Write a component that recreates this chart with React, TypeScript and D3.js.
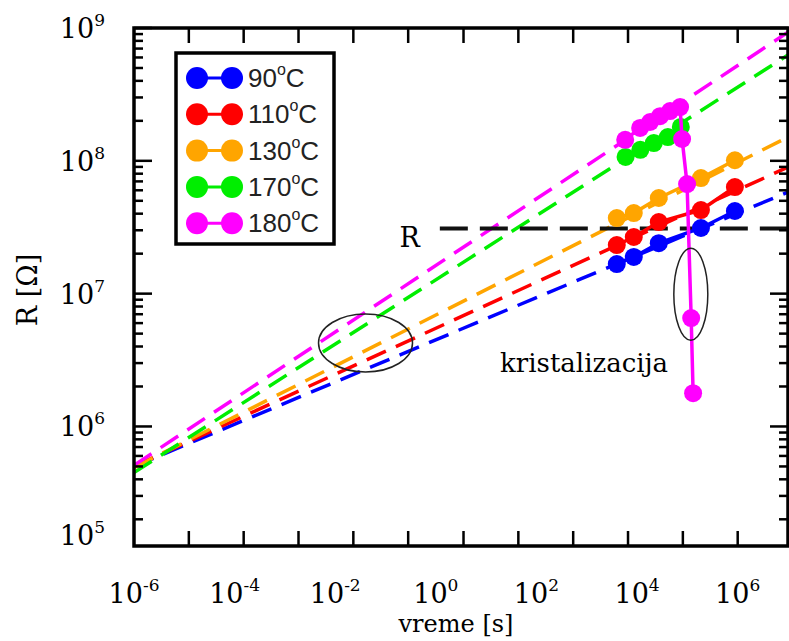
import React from 'react';
import * as d3 from 'd3';

// ---------- data ----------
const seriesNames = ['90', '110', '130', '170', '180'];
const seriesColors = ['#0000ff', '#ff0000', '#ffa500', '#00ee00', '#ff00ff'];

const blueT = [3.95e3, 8.6e3, 2.7e4, 1.86e5, 8.8e5];
const blueR = [1.67e7, 1.89e7, 2.4e7, 3.12e7, 4.19e7];
const redT = [3.95e3, 8.6e3, 2.7e4, 1.86e5, 8.8e5];
const redR = [2.32e7, 2.67e7, 3.46e7, 4.26e7, 6.35e7];
const orangeT = [3.95e3, 8.6e3, 2.7e4, 1.86e5, 8.8e5];
const orangeR = [3.71e7, 4.04e7, 5.25e7, 7.42e7, 1.01e8];
const greenT = [5.9e3, 1.16e4, 2.15e4, 4.09e4, 7.4e4];
const greenR = [1.07e8, 1.21e8, 1.36e8, 1.51e8, 1.8e8];
const magentaT = [5.8e3, 1.15e4, 1.82e4, 2.86e4, 4.53e4, 7.16e4, 7.85e4, 9.86e4, 1.19e5, 1.3e5];
const magentaR = [1.44e8, 1.77e8, 1.96e8, 2.17e8, 2.37e8, 2.54e8, 1.46e8, 6.68e7, 6.55e6, 1.78e6];

// power-law fits: value at t = 1e-6 s and at t = 1e7 s
const fitStartR = [5.0e5, 5.0e5, 4.9e5, 4.5e5, 5.1e5];
const fitEndR = [5.82e7, 8.98e7, 1.51e8, 6.26e8, 9.3e8];

const xDomain = [1e-6, 1e7];
const yDomain = [Math.pow(10, 5.1), 1e9];
const xLabelExps = [-6, -4, -2, 0, 2, 4, 6];
const yLabelExps = [9, 8, 7, 6, 5];
const xTickExps = [-4.91, -3.82, -2.73, -1.64, -0.55, 0.55, 1.64, 2.73, 3.82, 4.91, 6.0];

const thresholdR = 3.1e7;
const thresholdStartT = 1.2;
const ellipse1 = { t: 0.04, r: 4.25e6 };
const ellipse2 = { t: 1.17e5, r: 9.9e6 };
const crystLabel = { t: 18.9, r: 3.0e6 };
const rLabel = { t: 0.19, r: 2.85e7 };

const seriesT = [blueT, redT, orangeT, greenT, magentaT];
const seriesR = [blueR, redR, orangeR, greenR, magentaR];

// ---------- layout ----------
const W = 789;
const H = 641;
const L = 134, R = 788, T = 28, B = 546;
const serif = "'DejaVu Serif', serif";
const sans = "'Liberation Sans', Arial, sans-serif";

export default function App() {
  const x = d3.scaleLog().domain(xDomain).range([L, R]);
  const y = d3.scaleLog().domain(yDomain).range([B, T]);

  const line = d3.line<[number, number]>().x(d => x(d[0])).y(d => y(d[1]));

  const yTicks: { v: number; major: boolean }[] = [];
  for (let e = 5; e <= 9; e++) {
    for (let m = 1; m <= 9; m++) {
      const v = m * Math.pow(10, e);
      if (v < yDomain[0] || v > yDomain[1] * 1.0001) continue;
      yTicks.push({ v, major: m === 1 });
    }
  }

  const legendX = 176, legendY = 53, legendW = 158, legendH = 191;

  return (
    <svg width={W} height={H} style={{ position: 'absolute', left: 0, top: 0, background: '#fff' }}>
      <defs>
        <clipPath id="plot">
          <rect x={L} y={T} width={R - L} height={B - T} />
        </clipPath>
      </defs>
      <rect x={0} y={0} width={W} height={H} fill="#fff" />

      <g clipPath="url(#plot)">
        {fitStartR.map((s, i) => (
          <path
            key={'fit' + i}
            d={line([[xDomain[0], s], [xDomain[1], fitEndR[i]]]) || ''}
            fill="none"
            stroke={seriesColors[i]}
            strokeWidth={3.5}
            strokeDasharray="21,11"
          />
        ))}
        <path
          d={line([[thresholdStartT, thresholdR], [xDomain[1], thresholdR]]) || ''}
          fill="none"
          stroke="#111"
          strokeWidth={4}
          strokeDasharray="28,12"
        />
        {seriesT.map((ts, i) => (
          <g key={'s' + i}>
            <path
              d={line(ts.map((t, j) => [t, seriesR[i][j]] as [number, number])) || ''}
              fill="none"
              stroke={seriesColors[i]}
              strokeWidth={3.5}
            />
            {ts.map((t, j) => (
              <circle key={j} cx={x(t)} cy={y(seriesR[i][j])} r={9} fill={seriesColors[i]} />
            ))}
          </g>
        ))}
        <ellipse cx={x(ellipse1.t)} cy={y(ellipse1.r)} rx={47} ry={29} fill="none" stroke="#222" strokeWidth={1.5} />
        <ellipse cx={x(ellipse2.t)} cy={y(ellipse2.r)} rx={17} ry={46} fill="none" stroke="#222" strokeWidth={1.5} />
      </g>

      <text x={x(rLabel.t)} y={y(rLabel.r) + 14} fontFamily={serif} fontSize={27} fill="#000">R</text>
      <text x={x(crystLabel.t)} y={y(crystLabel.r) + 9} fontFamily={serif} fontSize={26} fill="#000">kristalizacija</text>

      <rect x={L} y={T} width={R - L} height={B - T} fill="none" stroke="#000" strokeWidth={3.5} />

      {yTicks.map((tk, i) => (
        <g key={'yt' + i}>
          <line x1={L} x2={L + (tk.major ? 18 : 9)} y1={y(tk.v)} y2={y(tk.v)} stroke="#000" strokeWidth={2.5} />
          <line x1={R} x2={R - (tk.major ? 18 : 9)} y1={y(tk.v)} y2={y(tk.v)} stroke="#000" strokeWidth={2.5} />
        </g>
      ))}
      {xTickExps.map((e, i) => {
        const px = x(Math.pow(10, e));
        return (
          <g key={'xt' + i}>
            <line x1={px} x2={px} y1={B} y2={B - 15} stroke="#000" strokeWidth={2.5} />
            <line x1={px} x2={px} y1={T} y2={T + 15} stroke="#000" strokeWidth={2.5} />
          </g>
        );
      })}

      {xLabelExps.map(e => (
        <text key={'xl' + e} x={x(Math.pow(10, e))} y={603} textAnchor="middle" fontFamily={serif} fontSize={27} fill="#000">
          10<tspan dy={-12} fontSize={17}>{e}</tspan>
        </text>
      ))}
      {yLabelExps.map(e => {
        const py = Math.min(y(Math.pow(10, e)), B - 11);
        return (
          <text key={'yl' + e} x={105} y={py + 10} textAnchor="end" fontFamily={serif} fontSize={27} fill="#000">
            10<tspan dy={-12} fontSize={17}>{e}</tspan>
          </text>
        );
      })}

      <text x={(L + R) / 2 - 5} y={632} textAnchor="middle" fontFamily={serif} fontSize={24} fill="#000">vreme [s]</text>
      <text transform={`translate(37, ${(T + B) / 2 + 3}) rotate(-90)`} textAnchor="middle" fontFamily={serif} fontSize={27} fill="#000">R [Ω]</text>

      <g>
        <rect x={legendX} y={legendY} width={legendW} height={legendH} fill="#fff" stroke="#000" strokeWidth={3.5} />
        {seriesNames.map((n, i) => {
          const ly = legendY + 25 + i * 36.3;
          return (
            <g key={'lg' + i}>
              <line x1={197} x2={232} y1={ly} y2={ly} stroke={seriesColors[i]} strokeWidth={3} />
              <circle cx={197} cy={ly} r={11} fill={seriesColors[i]} />
              <circle cx={232} cy={ly} r={11} fill={seriesColors[i]} />
              <text x={248} y={ly + 9} fontFamily={sans} fontSize={26} fill="#222">
                {n}<tspan dy={-12} fontSize={16}>o</tspan><tspan dy={12}>C</tspan>
              </text>
            </g>
          );
        })}
      </g>
    </svg>
  );
}
